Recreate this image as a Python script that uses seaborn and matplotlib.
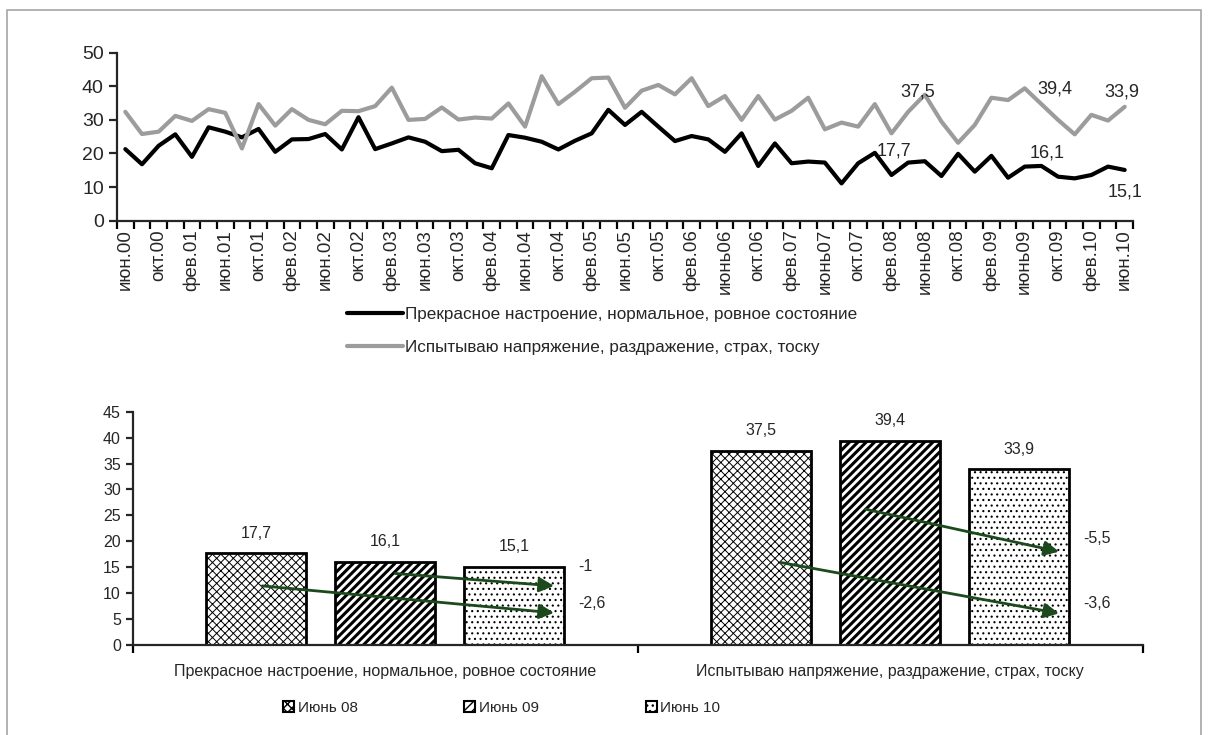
import matplotlib
matplotlib.use("Agg")
import matplotlib.pyplot as plt
import pandas as pd
import seaborn as sns
from matplotlib.patches import Rectangle, Patch

# --- data ------------------------------------------------------------------
month_labels = [
    "июн.00", "окт.00", "фев.01", "июн.01", "окт.01", "фев.02", "июн.02", "окт.02",
    "фев.03", "июн.03", "окт.03", "фев.04", "июн.04", "окт.04", "фев.05", "июн.05",
    "окт.05", "фев.06", "июнь06", "окт.06", "фев.07", "июнь07", "окт.07", "фев.08",
    "июнь08", "окт.08", "фев.09", "июнь09", "окт.09", "фев.10", "июн.10",
]

# bimonthly, June 2000 .. June 2010
good_mood = [
    21.3, 16.8, 22.3, 25.7, 19.0, 27.8, 26.5, 24.8, 27.3, 20.5,
    24.2, 24.3, 25.8, 21.2, 30.8, 21.3, 23.0, 24.8, 23.5, 20.7,
    21.1, 17.1, 15.6, 25.5, 24.7, 23.5, 21.2, 23.8, 26.0, 33.0,
    28.5, 32.4, 28.0, 23.7, 25.2, 24.2, 20.5, 26.0, 16.3, 23.0,
    17.1, 17.6, 17.3, 11.1, 17.1, 20.2, 13.6, 17.3, 17.7, 13.3,
    19.9, 14.6, 19.3, 12.8, 16.1, 16.3, 13.1, 12.6, 13.6, 16.1,
    15.1,
]
tension = [
    32.4, 25.8, 26.5, 31.2, 29.7, 33.2, 32.1, 21.5, 34.7, 28.3,
    33.2, 30.0, 28.7, 32.7, 32.6, 34.1, 39.6, 30.0, 30.3, 33.7,
    30.1, 30.7, 30.4, 34.9, 28.0, 43.0, 34.7, 38.4, 42.4, 42.6,
    33.6, 38.7, 40.4, 37.6, 42.4, 34.1, 37.1, 30.0, 37.1, 30.1,
    32.7, 36.6, 27.2, 29.2, 28.0, 34.7, 26.0, 32.4, 37.5, 29.5,
    23.2, 28.5, 36.6, 35.9, 39.4, 34.7, 30.0, 25.7, 31.5, 29.8,
    33.9,
]
series_names = [
    "Прекрасное настроение, нормальное, ровное состояние",
    "Испытываю напряжение, раздражение, страх, тоску",
]

periods = ["Июнь 08", "Июнь 09", "Июнь 10"]
jun08 = [17.7, 37.5]
jun09 = [16.1, 39.4]
jun10 = [15.1, 33.9]


def ru(v):
    return f"{v:g}".replace(".", ",")


sns.set_style("ticks")
plt.rcParams["font.family"] = ["Liberation Sans", "DejaVu Sans"]
plt.rcParams["axes.linewidth"] = 1.6

fig = plt.figure(figsize=(12.08, 7.35), dpi=100)
W, H = 1208, 735

# outer frame
fig.add_artist(Rectangle((7 / W, -0.01), 1194 / W, 1 - 10 / H + 0.01,
                         transform=fig.transFigure, fill=False,
                         edgecolor="#a6a6a6", linewidth=1.2))

# --- top: line chart -------------------------------------------------------
ax1 = fig.add_axes([117 / W, 1 - 220.7 / H, 1016 / W, 168 / H])
lines = pd.DataFrame({"idx": list(range(len(good_mood))),
                      "good": good_mood, "tense": tension})
sns.lineplot(data=lines, x="idx", y="good", color="black", linewidth=3, ax=ax1)
sns.lineplot(data=lines, x="idx", y="tense", color="#9c9c9c", linewidth=3, ax=ax1)
ax1.set_xlim(-0.5, len(good_mood) - 0.5)
ax1.set_ylim(0, 50)
ax1.set_yticks(range(0, 51, 10))
ax1.set_xticks(range(0, len(good_mood), 2))
ax1.set_xticklabels(month_labels, rotation=90, fontsize=13.5)
ax1.set_xticks([i - 0.5 for i in range(len(good_mood) + 1)], minor=True)
ax1.tick_params(axis="x", which="major", length=0, pad=6)
ax1.tick_params(axis="x", which="minor", length=6, width=1.6, color="black")
ax1.tick_params(axis="y", length=6, width=1.6, labelsize=14)
ax1.set_xlabel("")
ax1.set_ylabel("")
sns.despine(ax=ax1)

# data labels on the line chart
jun_idx = [48, 54, 60]
offsets_good = [(-31, 10), (22, 14), (0, -22)]
offsets_tense = [(-7, 3), (30, -1), (-3, 15)]
for i, off in zip(jun_idx, offsets_good):
    ax1.annotate(ru(good_mood[i]), (i, good_mood[i]), xytext=off,
                 textcoords="offset pixels", ha="center", va="center", fontsize=13)
for i, off in zip(jun_idx, offsets_tense):
    ax1.annotate(ru(tension[i]), (i, tension[i]), xytext=off,
                 textcoords="offset pixels", ha="center", va="center", fontsize=13)

fig.legend(handles=ax1.lines[:2], labels=series_names, loc="upper left",
           bbox_to_anchor=(347 / W, 1 - 307 / H), frameon=False, fontsize=12.3,
           handlelength=3.3, handletextpad=0.12, labelspacing=1.05,
           borderpad=0, borderaxespad=0)

# --- bottom: grouped bars --------------------------------------------------
ax2 = fig.add_axes([132.7 / W, 90 / H, 1010 / W, 233.3 / H])
bars = pd.DataFrame({
    "group": series_names * 3,
    "period": [p for p in periods for _ in series_names],
    "value": jun08 + jun09 + jun10,
})
sns.barplot(data=bars, x="group", y="value", hue="period", hue_order=periods,
            palette=["white"] * 3, edgecolor="black", linewidth=2,
            width=0.766, gap=0.227, legend=False, ax=ax2)

hatches = ["xxxx", "////", "..."]
hatch_lw = [0.7, 2.2, 0.8]
for cont, h, hl in zip(ax2.containers, hatches, hatch_lw):
    for b in cont:
        b.set_hatch(h)
        if hasattr(b, "set_hatch_linewidth"):
            b.set_hatch_linewidth(hl)
    ax2.bar_label(cont, labels=[ru(v) for v in cont.datavalues],
                  padding=9, fontsize=11.5)

ax2.set_xlim(-0.5, 1.5)
ax2.set_ylim(0, 45)
ax2.set_yticks(range(0, 46, 5))
ax2.set_xticks([-0.5, 0.5, 1.5], minor=True)
ax2.tick_params(axis="x", which="major", length=0, pad=14, labelsize=11.5)
ax2.tick_params(axis="x", which="minor", length=6, width=1.6, color="black")
ax2.tick_params(axis="y", length=5, width=1.6, labelsize=11.5)
ax2.set_xlabel("")
ax2.set_ylabel("")
sns.despine(ax=ax2)

# change arrows: from Jun 08 / Jun 09 bars to the Jun 10 bar
green = "#1c4a1c"
last = ax2.containers[2]
arrow_specs = [
    # group, source container, start shift, y start, y end, label y
    (0, 0, 0.06, 11.4, 6.2, 8.1),
    (0, 1, 0.10, 13.8, 11.4, 15.1),
    (1, 0, 0.20, 15.9, 6.1, 8.0),
    (1, 1, -0.25, 26.2, 18.0, 20.6),
]
for g, src, shift, y0, y1, ly in arrow_specs:
    sb = ax2.containers[src][g]
    tb = last[g]
    w = tb.get_width()
    x0 = sb.get_x() + sb.get_width() / 2 + shift * w
    x1 = tb.get_x() + tb.get_width() / 2 + 0.4 * w
    ax2.annotate("", xy=(x1, y1), xytext=(x0, y0),
                 arrowprops=dict(arrowstyle="-|>", color=green, lw=2,
                                 mutation_scale=22, shrinkA=0, shrinkB=0))
    delta = round(tb.get_height() - sb.get_height(), 1)
    ax2.text(tb.get_x() + w + 0.028, ly, ru(delta), ha="left", va="center",
             fontsize=11.5)

leg_handles = [Patch(facecolor="white", edgecolor="black", hatch=h, linewidth=1.5)
               for h in hatches]
fig.legend(handles=leg_handles, labels=periods, loc="center left",
           bbox_to_anchor=(283 / W, 1 - 708 / H), ncol=3, frameon=False,
           fontsize=11, handlelength=0.7, handleheight=0.7,
           handletextpad=0.25, columnspacing=7.0, borderpad=0, borderaxespad=0)

fig.savefig("out.png", dpi=100)
